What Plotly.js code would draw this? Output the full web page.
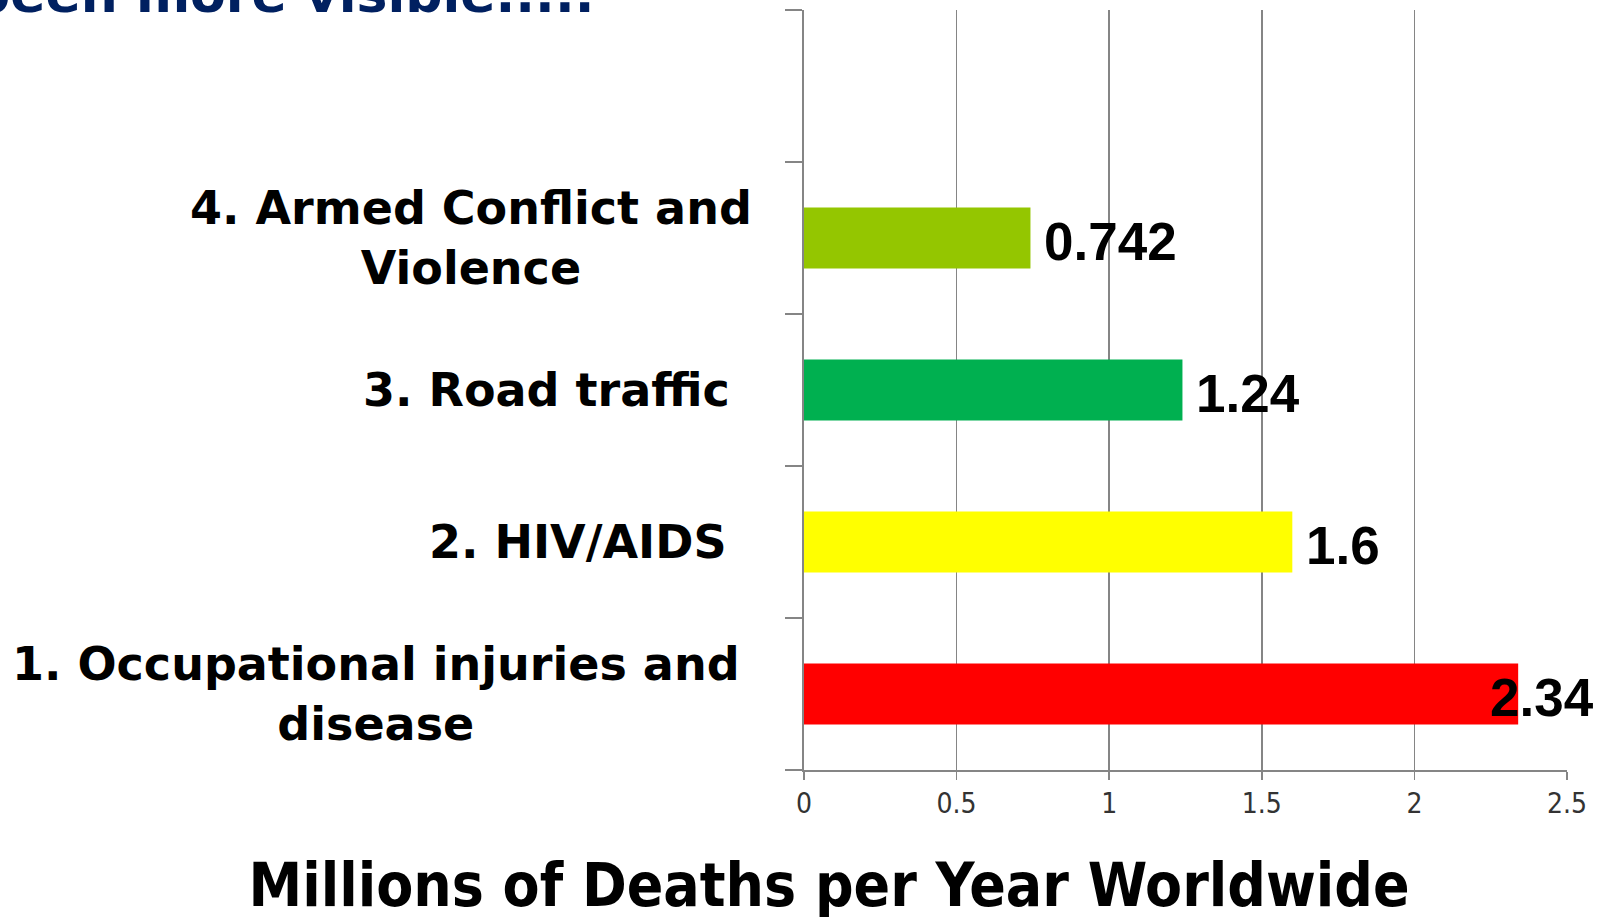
<!DOCTYPE html>
<html>
<head>
<meta charset="utf-8">
<script src="https://cdn.plot.ly/plotly-3.0.1.min.js"></script>
<style>
  html, body { margin: 0; padding: 0; background: #ffffff; }
  #chart { width: 1606px; height: 917px; }
</style>
</head>
<body>
<div id="chart"></div>
<script>
// ---- data ----
const categories = [
  "1. Occupational injuries and<br>disease",
  "2. HIV/AIDS",
  "3. Road traffic",
  "4. Armed Conflict and<br>Violence",
  ""
];
const deaths = [2.34, 1.6, 1.24, 0.742];
const valueLabels = ["2.34", "1.6", "1.24", "0.742"];
const barColors = ["#FF0000", "#FFFF00", "#00B050", "#94C600"];
const xTickVals = [0, 0.5, 1, 1.5, 2, 2.5];
const xTickText = ["0", "0.5", "1", "1.5", "2", "2.5"];
const xAxisTitle = "Millions of Deaths per Year Worldwide";
const headerText = "been more visible.....";

// ---- layout helpers (positions / styling only) ----
const W = 1606, H = 917;
const plotL = 804, plotR = 1567, plotT = 10, plotB = 770;
const toPaperX = px => (px - plotL) / (plotR - plotL);
const catLabelCenters = [376, 578, 546, 471];   // px centre of each category label
const valueShift = [-30, 12, 12, 12];            // px offset of value labels from bar end

const idx = deaths.map((_, i) => i);

const trace = {
  type: "bar",
  orientation: "h",
  x: deaths,
  y: idx,
  width: 0.4,
  marker: { color: barColors, line: { width: 0 } },
  hoverinfo: "none"
};

const annotations = [];
// category labels
deaths.forEach((_, i) => {
  annotations.push({
    xref: "paper", yref: "y",
    x: toPaperX(catLabelCenters[i]), y: i,
    xanchor: "center", yanchor: "middle", align: "center",
    text: categories[i],
    showarrow: false,
    font: { family: "DejaVu Sans, sans-serif", size: 46, color: "#000000", weight: "bold" }
  });
});
// value labels
deaths.forEach((v, i) => {
  annotations.push({
    xref: "x", yref: "y",
    x: v, y: i,
    xanchor: "left", yanchor: "middle",
    xshift: valueShift[i], yshift: -3,
    text: "<b>" + valueLabels[i] + "</b>",
    showarrow: false,
    font: { family: "Liberation Sans, Arial, sans-serif", size: 53, color: "#000000" }
  });
});
// partially visible header text at the very top
annotations.push({
  xref: "paper", yref: "paper",
  x: toPaperX(596), y: 1,
  xanchor: "right", yanchor: "bottom", yshift: -16,
  text: "<b>" + headerText + "</b>",
  showarrow: false,
  font: { family: "DejaVu Sans, sans-serif", size: 52, color: "#002060" }
});

const layout = {
  width: W, height: H,
  paper_bgcolor: "#ffffff",
  plot_bgcolor: "#ffffff",
  showlegend: false,
  margin: { l: plotL, r: W - plotR, t: plotT, b: H - plotB, pad: 0 },
  title: {
    text: "<b>" + xAxisTitle + "</b>",
    xref: "container", yref: "container",
    x: 829 / W, xanchor: "center",
    y: (H - 885) / H, yanchor: "middle",
    font: { family: "DejaVu Sans Condensed, DejaVu Sans, sans-serif", size: 60, color: "#000000" }
  },
  xaxis: {
    range: [0, 2.5],
    tickvals: xTickVals,
    ticktext: xTickText,
    showgrid: true,
    gridcolor: "#858585",
    gridwidth: 1.4,
    zeroline: false,
    showline: true,
    linecolor: "#858585",
    linewidth: 1.6,
    ticks: "outside",
    ticklen: 8,
    tickcolor: "#858585",
    tickwidth: 1.4,
    ticklabelstandoff: 0,
    tickfont: { family: "Liberation Sans Narrow, DejaVu Sans Condensed, sans-serif", size: 28, color: "#333333" },
    fixedrange: true
  },
  yaxis: {
    range: [-0.5, categories.length - 0.5],
    tickvals: categories.map((_, i) => i - 0.5).concat([categories.length - 0.5]),
    showticklabels: false,
    showgrid: false,
    zeroline: false,
    showline: true,
    linecolor: "#858585",
    linewidth: 1.6,
    ticks: "outside",
    ticklen: 17,
    tickcolor: "#858585",
    tickwidth: 1.4,
    fixedrange: true
  },
  bargap: 0.6,
  annotations: annotations
};

Plotly.newPlot("chart", [trace], layout, { displayModeBar: false, staticPlot: true });
</script>
</body>
</html>
